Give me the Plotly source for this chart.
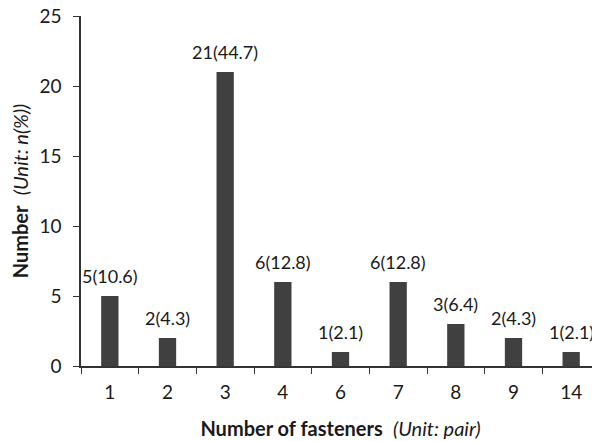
import plotly.graph_objects as go

categories = ["1", "2", "3", "4", "6", "7", "8", "9", "14"]
counts = [5, 2, 21, 6, 1, 6, 3, 2, 1]
percents = ["10.6", "4.3", "44.7", "12.8", "2.1", "12.8", "6.4", "4.3", "2.1"]
labels = [f"{c}({p})" for c, p in zip(counts, percents)]

font = "Lato, 'Open Sans', sans-serif"

fig = go.Figure()
fig.add_trace(go.Bar(x=categories, y=counts, marker=dict(color="#404040", line=dict(width=0)),
                     width=0.3))

for i, (v, t) in enumerate(zip(counts, labels)):
    fig.add_annotation(x=i, y=v, text=t, showarrow=False, yanchor="bottom", yshift=7,
                       font=dict(size=18, color="#1a1a1a", family=font))

fig.update_layout(
    width=600, height=441,
    margin=dict(l=73, r=8, t=8, b=83),
    plot_bgcolor="white", paper_bgcolor="white",
    showlegend=False,
    font=dict(family=font, color="#1a1a1a"),
)
fig.update_xaxes(
    type="category", categoryorder="array", categoryarray=categories,
    range=[-0.5, len(categories) - 0.5], automargin=False,
    tickson="boundaries", ticks="outside", ticklen=6, tickcolor="#333",
    ticklabelstandoff=8, ticklabeloverflow="allow",
    showline=True, linecolor="#333", linewidth=1.5, showgrid=False,
    tickfont=dict(size=19, family=font),
    title=dict(text="<b>Number of fasteners</b>  <i>(Unit: pair)</i>", font=dict(size=20, family=font), standoff=20),
)
fig.update_yaxes(
    range=[0, 25], dtick=5, ticks="outside", ticklen=6, tickcolor="#333", automargin=False,
    ticklabelstandoff=8, ticklabeloverflow="allow",
    showline=True, linecolor="#333", linewidth=1.5, showgrid=False, zeroline=False,
    tickfont=dict(size=19, family=font),
    title=dict(text="<b>Number</b>  <i>(Unit: n(%))</i>", font=dict(size=20, family=font), standoff=8),
)

fig.write_html("out.html")
